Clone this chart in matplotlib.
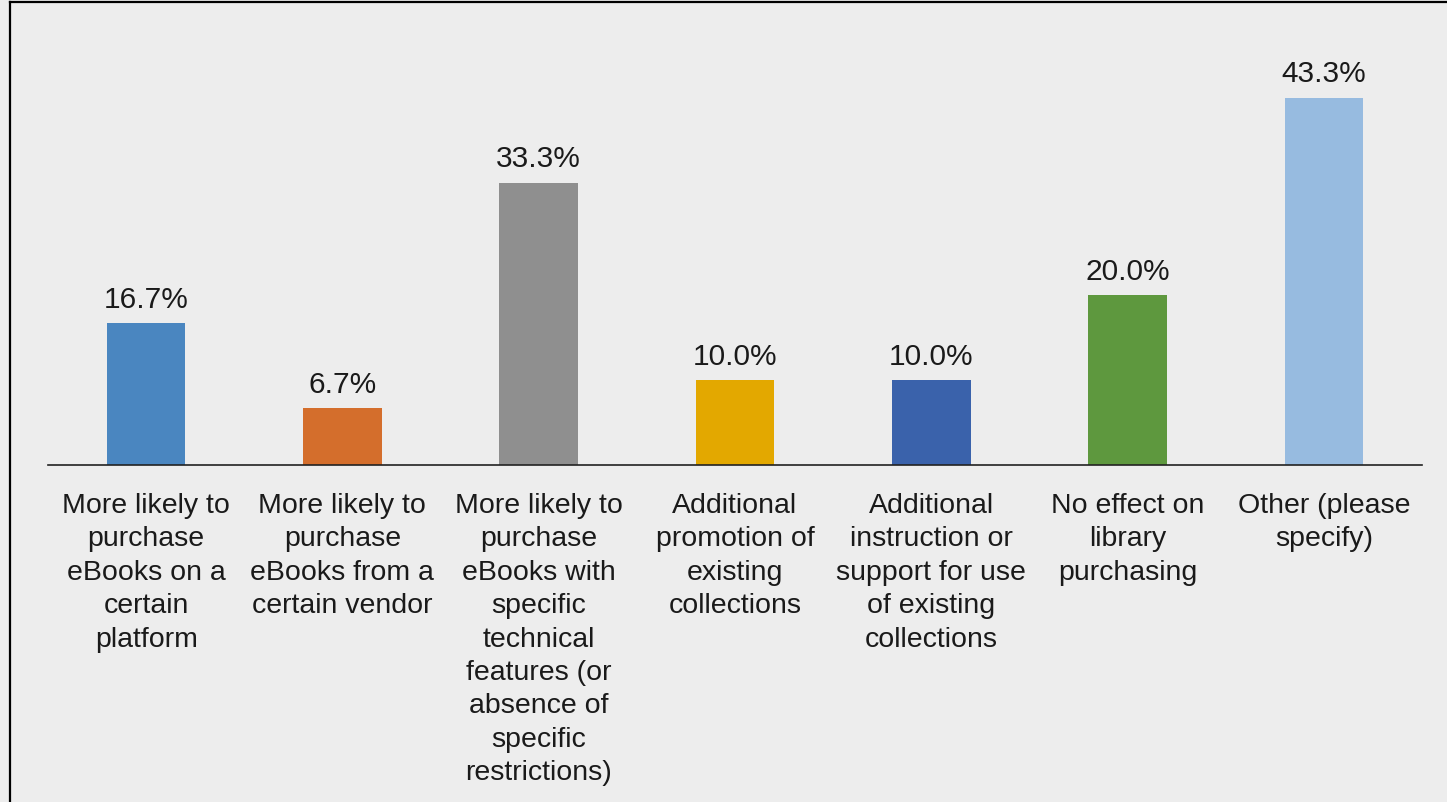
import matplotlib
matplotlib.use("Agg")
import matplotlib.pyplot as plt
from matplotlib.lines import Line2D

BG = "#ededed"

categories = [
    "More likely to\npurchase\neBooks on a\ncertain\nplatform",
    "More likely to\npurchase\neBooks from a\ncertain vendor",
    "More likely to\npurchase\neBooks with\nspecific\ntechnical\nfeatures (or\nabsence of\nspecific\nrestrictions)",
    "Additional\npromotion of\nexisting\ncollections",
    "Additional\ninstruction or\nsupport for use\nof existing\ncollections",
    "No effect on\nlibrary\npurchasing",
    "Other (please\nspecify)",
]
values = [16.7, 6.7, 33.3, 10.0, 10.0, 20.0, 43.3]
colors = ["#4a86c0", "#d46e2c", "#8f8f8f", "#e3a800", "#3a62ab", "#5e983e", "#97bbe0"]

plt.rcParams["font.family"] = ["Liberation Sans", "DejaVu Sans"]

fig = plt.figure(figsize=(14.47, 8.03), dpi=100)
fig.patch.set_facecolor(BG)
ax = fig.add_axes([48 / 1447, 1 - 466 / 803, 1374 / 1447, 424 / 803])
ax.set_facecolor(BG)

x = range(len(values))
bars = ax.bar(x, values, width=0.4, color=colors, zorder=2)
ax.set_xlim(-0.5, len(values) - 0.5)
ax.set_ylim(0, 50)

for b, v in zip(bars, values):
    ax.annotate(f"{v:.1f}%", (b.get_x() + b.get_width() / 2, v),
                xytext=(0, 7.5), textcoords="offset points",
                ha="center", va="bottom", fontsize=21.5, color="#1a1a1a")

for s in ("top", "right", "left"):
    ax.spines[s].set_visible(False)
ax.spines["bottom"].set_color("#222222")
ax.spines["bottom"].set_linewidth(1.2)
ax.set_yticks([])
ax.set_xticks(list(x))
ax.set_xticklabels(categories, fontsize=20.5, color="#1a1a1a", linespacing=1.37)
ax.tick_params(axis="x", length=0, pad=19.5)

# frame lines along the top and left edges
fig.add_artist(Line2D([10 / 1447, 1], [1 - 3 / 803, 1 - 3 / 803], color="black", lw=1.6,
                      transform=fig.transFigure))
fig.add_artist(Line2D([10 / 1447, 10 / 1447], [0, 1 - 3 / 803], color="black", lw=1.6,
                      transform=fig.transFigure))

fig.savefig("out.png", dpi=100, facecolor=BG)
